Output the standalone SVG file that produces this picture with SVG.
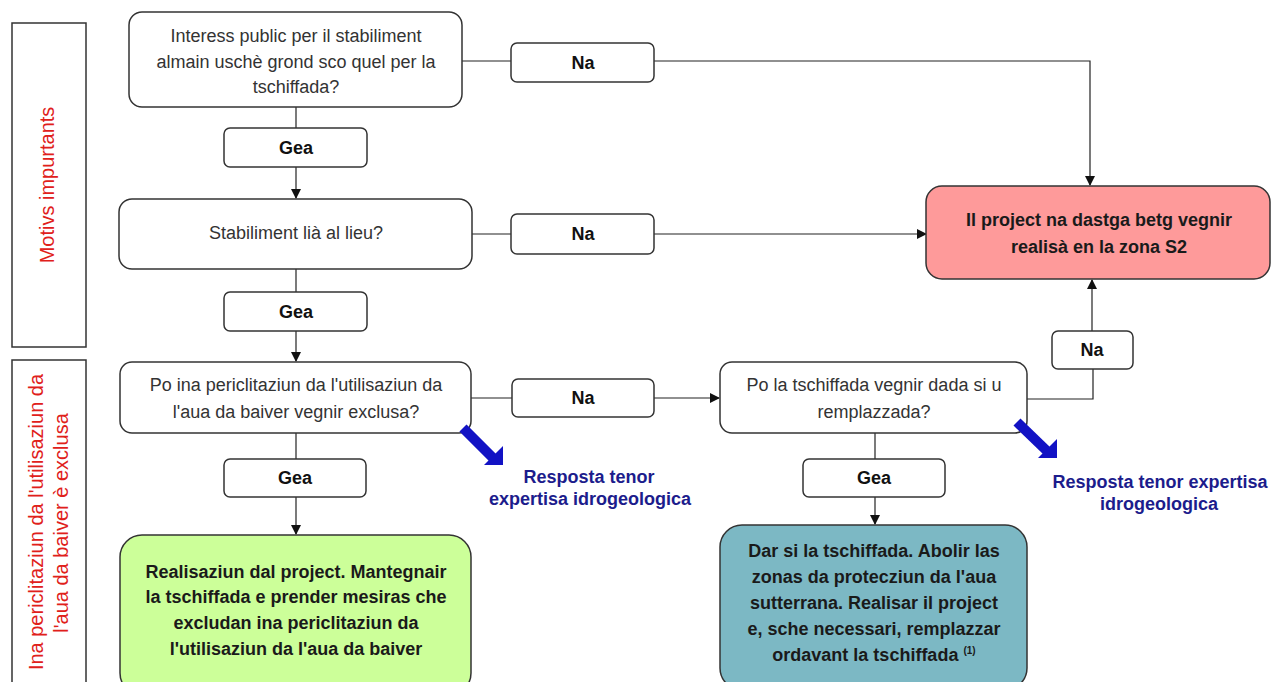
<svg xmlns="http://www.w3.org/2000/svg" width="1272" height="682" viewBox="0 0 1272 682">
<style>
  .q { fill:#ffffff; stroke:#333333; stroke-width:1.5; }
  .lbl { fill:#ffffff; stroke:#333333; stroke-width:1.5; }
  .side { fill:#ffffff; stroke:#333333; stroke-width:1.5; }
  .qt { font-family:"Liberation Sans", Arial, sans-serif; font-size:18px; fill:#333333; text-anchor:middle; }
  .bt { font-family:"Liberation Sans", Arial, sans-serif; font-size:18px; font-weight:bold; fill:#111111; text-anchor:middle; }
  .rt { font-family:"Liberation Sans", Arial, sans-serif; font-size:18px; font-weight:bold; fill:#1a1a1a; text-anchor:middle; }
  .red { font-family:"Liberation Sans", Arial, sans-serif; font-size:20px; fill:#e0201a; text-anchor:middle; }
  .blue { font-family:"Liberation Sans", Arial, sans-serif; font-size:18px; font-weight:bold; fill:#1c1c8c; text-anchor:middle; }
  .con { fill:none; stroke:#222222; stroke-width:1.2; }
  .barrow { fill:#1212c4; }
  .bshaft { fill:none; stroke:#1212c4; stroke-width:10; }
</style>
<defs>
  <marker id="ah" markerWidth="10" markerHeight="10" refX="9" refY="5" orient="auto" markerUnits="userSpaceOnUse">
    <path d="M0,0 L10,5 L0,10 Z" fill="#111111"/>
  </marker>
</defs>
<rect width="1272" height="682" fill="#ffffff"/>

<g id="side1">
  <rect class="side" x="12" y="23" width="74" height="324"/>
  <text class="red" transform="translate(54,185) rotate(-90)">Motivs impurtants</text>
</g>
<g id="side2">
  <rect class="side" x="12" y="360" width="74" height="340"/>
  <text class="red" transform="translate(43,522) rotate(-90)">Ina periclitaziun da l'utilisaziun da</text>
  <text class="red" transform="translate(68,523) rotate(-90)">l'aua da baiver è exclusa</text>
</g>

<g id="connectors">
  <path class="con" d="M296,107 V128"/>
  <path class="con" d="M296,167 V198" marker-end="url(#ah)"/>
  <path class="con" d="M296,269 V292"/>
  <path class="con" d="M296,331 V361" marker-end="url(#ah)"/>
  <path class="con" d="M296,433 V459"/>
  <path class="con" d="M296,497 V534" marker-end="url(#ah)"/>
  <path class="con" d="M462,61 H511"/>
  <path class="con" d="M654,61 H1090 V185" marker-end="url(#ah)"/>
  <path class="con" d="M472,234 H511"/>
  <path class="con" d="M654,234 H926" marker-end="url(#ah)"/>
  <path class="con" d="M471,398 H512"/>
  <path class="con" d="M654,398 H719" marker-end="url(#ah)"/>
  <path class="con" d="M1027,399 H1093 V369"/>
  <path class="con" d="M1092,331 V280" marker-end="url(#ah)"/>
  <path class="con" d="M875,433 V459"/>
  <path class="con" d="M875,497 V524" marker-end="url(#ah)"/>
</g>

<g id="q1">
  <rect class="q" x="129" y="12" width="333" height="95" rx="13"/>
  <text class="qt" x="296" y="42">Interess public per il stabiliment</text>
  <text class="qt" x="296" y="68">almain uschè grond sco quel per la</text>
  <text class="qt" x="296" y="93">tschiffada?</text>
</g>
<g id="gea1">
  <rect class="lbl" x="224" y="128" width="143" height="39" rx="6"/>
  <text class="bt" x="296" y="154">Gea</text>
</g>
<g id="na1">
  <rect class="lbl" x="511" y="43" width="143" height="39" rx="6"/>
  <text class="bt" x="583" y="69">Na</text>
</g>
<g id="q2">
  <rect class="q" x="119" y="199" width="353" height="70" rx="13"/>
  <text class="qt" x="296" y="239">Stabiliment lià al lieu?</text>
</g>
<g id="na2">
  <rect class="lbl" x="511" y="214" width="143" height="40" rx="6"/>
  <text class="bt" x="583" y="240">Na</text>
</g>
<g id="gea2">
  <rect class="lbl" x="224" y="292" width="143" height="39" rx="6"/>
  <text class="bt" x="296" y="318">Gea</text>
</g>
<g id="noS2">
  <rect x="926" y="186" width="344" height="93" rx="16" fill="#fe9a9a" stroke="#333333" stroke-width="1.5"/>
  <text class="rt" x="1099" y="226">Il project na dastga betg vegnir</text>
  <text class="rt" x="1099" y="253">realisà en la zona S2</text>
</g>
<g id="q3">
  <rect class="q" x="120" y="362" width="351" height="71" rx="12"/>
  <text class="qt" x="296" y="391">Po ina periclitaziun da l'utilisaziun da</text>
  <text class="qt" x="296" y="418">l'aua da baiver vegnir exclusa?</text>
</g>
<g id="na3">
  <rect class="lbl" x="512" y="379" width="142" height="38" rx="6"/>
  <text class="bt" x="583" y="404">Na</text>
</g>
<g id="gea3">
  <rect class="lbl" x="224" y="459" width="142" height="38" rx="6"/>
  <text class="bt" x="295" y="484">Gea</text>
</g>
<g id="resp1">
  <path class="bshaft" d="M463,428 L494,459"/>
  <polygon class="barrow" points="503,446 503,465 484,465"/>
  <text class="blue" x="589" y="483">Resposta tenor</text>
  <text class="blue" x="590" y="505">expertisa idrogeologica</text>
</g>
<g id="green">
  <rect x="120" y="535" width="351" height="160" rx="22" fill="#ccff99" stroke="#333333" stroke-width="1.5"/>
  <text class="rt" x="296" y="578">Realisaziun dal project. Mantegnair</text>
  <text class="rt" x="296" y="603">la tschiffada e prender mesiras che</text>
  <text class="rt" x="296" y="629">excludan ina periclitaziun da</text>
  <text class="rt" x="296" y="655">l'utilisaziun da l'aua da baiver</text>
</g>
<g id="q4">
  <rect class="q" x="720" y="362" width="307" height="71" rx="12"/>
  <text class="qt" x="874" y="391">Po la tschiffada vegnir dada si u</text>
  <text class="qt" x="874" y="418">remplazzada?</text>
</g>
<g id="na4">
  <rect class="lbl" x="1052" y="331" width="81" height="38" rx="6"/>
  <text class="bt" x="1092" y="356">Na</text>
</g>
<g id="gea4">
  <rect class="lbl" x="803" y="459" width="142" height="38" rx="6"/>
  <text class="bt" x="874" y="484">Gea</text>
</g>
<g id="resp2">
  <path class="bshaft" d="M1017,422 L1047,451"/>
  <polygon class="barrow" points="1057,439 1057,458 1038,458"/>
  <text class="blue" x="1160" y="488">Resposta tenor expertisa</text>
  <text class="blue" x="1159" y="510">idrogeologica</text>
</g>
<g id="teal">
  <rect x="720" y="525" width="307" height="165" rx="22" fill="#7cb8c4" stroke="#333333" stroke-width="1.5"/>
  <text class="rt" x="874" y="557">Dar si la tschiffada. Abolir las</text>
  <text class="rt" x="874" y="583">zonas da protecziun da l'aua</text>
  <text class="rt" x="874" y="609">sutterrana. Realisar il project</text>
  <text class="rt" x="874" y="635">e, sche necessari, remplazzar</text>
  <text class="rt" x="874" y="661">ordavant la tschiffada <tspan font-size="10" dy="-7">(1)</tspan></text>
</g>
</svg>
